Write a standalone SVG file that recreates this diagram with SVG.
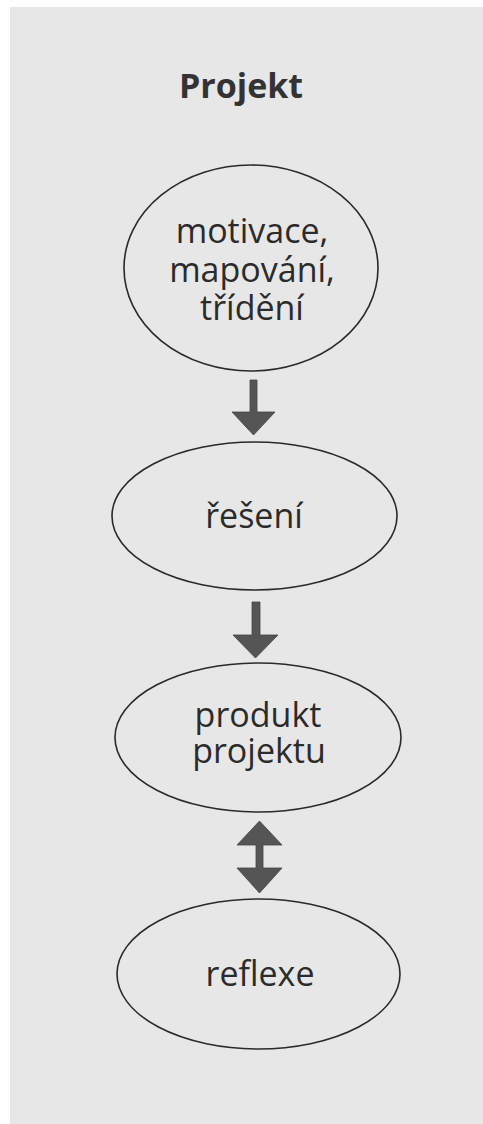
<svg xmlns="http://www.w3.org/2000/svg" width="483" height="1124" viewBox="0 0 483 1124">
<style>
.node ellipse{fill:none;stroke:#2a2a2a;stroke-width:1.6}
.lbl{font-family:"Open Sans","Noto Sans",sans-serif;font-size:34px;fill:#2b2b2b;text-anchor:middle}
.title{font-family:"Open Sans","Noto Sans",sans-serif;font-size:34px;font-weight:bold;fill:#333;text-anchor:middle}
.arr{fill:#555;stroke:#444;stroke-width:0.8}
</style>
<rect x="0" y="0" width="483" height="1124" fill="#ffffff"/>
<rect x="10" y="7" width="473" height="1117" fill="#e7e7e7"/>
<text class="title" x="241" y="98">Projekt</text>
<g id="connectors">
<path class="arr" d="M250,380 H257 V412 H275 L253.5,435 L232,412 H250 Z"/>
<path class="arr" d="M252,602 H260 V635 H278 L255.5,658 L233,635 H252 Z"/>
<path class="arr" d="M259.5,821 L282,845 H263 V868 H282 L259.5,893 L237,868 H256 V845 H237 Z"/>
</g>
<g id="n1" class="node">
<ellipse cx="251" cy="268" rx="127" ry="103"/>
<text class="lbl" x="252" y="243">motivace,</text>
<text class="lbl" x="252" y="282">mapování,</text>
<text class="lbl" x="252" y="320">třídění</text>
</g>
<g id="n2" class="node">
<ellipse cx="254.5" cy="516" rx="142.5" ry="74"/>
<text class="lbl" x="254" y="528">řešení</text>
</g>
<g id="n3" class="node">
<ellipse cx="258" cy="737.5" rx="143" ry="74.5"/>
<text class="lbl" x="258" y="727">produkt</text>
<text class="lbl" x="259" y="763">projektu</text>
</g>
<g id="n4" class="node">
<ellipse cx="258.5" cy="974" rx="141.5" ry="75"/>
<text class="lbl" x="260" y="986">reflexe</text>
</g>
</svg>
